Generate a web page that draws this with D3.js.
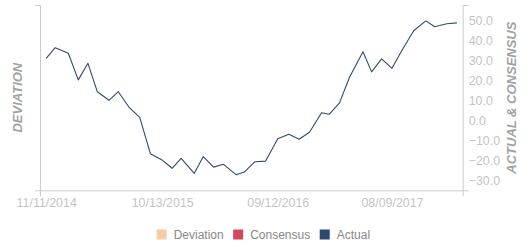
<!DOCTYPE html>
<html>
<head>
<meta charset="utf-8">
<script src="https://cdn.jsdelivr.net/npm/d3@7"></script>
<style>
  body { margin: 0; background: #fff; }
  svg { display: block; font-family: "Liberation Sans", Arial, sans-serif; }
</style>
</head>
<body>
<div class="chart"></div>
<script>
// release dates
var dates = ["11/11/2014","12/07/2014","01/14/2015","02/12/2015","03/12/2015","04/08/2015","05/12/2015","06/08/2015","07/10/2015","08/09/2015",
  "09/09/2015","10/13/2015","11/11/2015","12/07/2015","01/14/2016","02/09/2016","03/10/2016","04/08/2016","05/14/2016","06/07/2016",
  "07/08/2016","08/08/2016","09/12/2016","10/14/2016","11/13/2016","12/13/2016","01/17/2017","02/08/2017","03/10/2017","04/08/2017",
  "05/17/2017","06/11/2017","07/10/2017","08/09/2017","09/08/2017","10/11/2017","11/15/2017","12/11/2017","01/15/2018","02/13/2018"];

// actual values (right axis)
var actual = [31.2,36.5,33.7,20.4,28.7,14.5,10.2,14.5,6.5,1.7,
  -16.5,-19.7,-23.8,-18.8,-26.3,-18.0,-23.2,-21.8,-27.0,-25.7,
  -20.5,-20.2,-9.0,-6.8,-9.3,-5.8,4.0,3.2,8.9,21.7,
  34.5,24.4,30.9,26.2,35.5,45.0,49.9,47.0,48.5,48.9];

var xTicks = ["11/11/2014","10/13/2015","09/12/2016","08/09/2017"];
var yTicks = [-30,-20,-10,0,10,20,30,40,50];

var legendItems = ["Deviation","Consensus","Actual"];
var legendColors = ["#f5cda0","#d6475e","#2c4a6e"];

var parseDate = d3.timeParse("%m/%d/%Y");
var formatDate = d3.timeFormat("%m/%d/%Y");

var width = 531, height = 250;
var plot = { left: 40, right: 462.7, top: 5, bottom: 190.3 };

var data = dates.map(function (d, i) { return { date: parseDate(d), value: actual[i] }; });

var svg = d3.select(".chart").append("svg")
  .attr("width", width)
  .attr("height", height);

// x: time scale, a bit of room either side of the first/last release
var xExtent = d3.extent(data, d => d.date);
var xScale = d3.scaleTime()
  .domain([d3.timeDay.offset(xExtent[0], -18), d3.timeDay.offset(xExtent[1], 17)])
  .range([plot.left, plot.right]);

var yScale = d3.scaleLinear()
  .domain([-34.8, 57.85])
  .range([plot.bottom, plot.top]);

// deviation axis has no data, only the frame
var devScale = d3.scaleLinear().domain([0, 1]).range([plot.bottom, plot.top]);

var axisColor = "#cccccc";
var tickColor = "#c4c4c4";
var titleColor = "#a2a2a2";

// left axis
var gLeft = svg.append("g")
  .attr("transform", `translate(${plot.left},0)`)
  .call(d3.axisLeft(devScale).tickValues([]).tickSizeOuter(5));

// right axis
var gRight = svg.append("g")
  .attr("transform", `translate(${plot.right},0)`)
  .call(d3.axisRight(yScale).tickValues(yTicks).tickSize(0).tickSizeOuter(6).tickPadding(6).tickFormat(d3.format(".1f")));

// bottom axis
var gBottom = svg.append("g")
  .attr("transform", `translate(0,${plot.bottom})`)
  .call(d3.axisBottom(xScale).tickValues(xTicks.map(parseDate)).tickSize(0).tickSizeOuter(6).tickPadding(8).tickFormat(formatDate));

[gLeft, gRight, gBottom].forEach(function (g) {
  g.select(".domain").attr("stroke", axisColor);
  g.selectAll("text")
    .attr("fill", tickColor)
    .style("font-size", "12.4px")
    .style("font-family", "\"Liberation Sans\", Arial, sans-serif");
});

// axis titles
svg.append("text")
  .attr("transform", `translate(21.5,${(plot.top + plot.bottom) / 2}) rotate(-90)`)
  .attr("text-anchor", "middle")
  .attr("fill", titleColor)
  .style("font-size", "13px")
  .style("font-weight", "bold")
  .style("font-style", "italic")
  .text("DEVIATION");

svg.append("text")
  .attr("transform", `translate(515.5,${(plot.top + plot.bottom) / 2}) rotate(-90)`)
  .attr("text-anchor", "middle")
  .attr("fill", titleColor)
  .style("font-size", "13px")
  .style("font-weight", "bold")
  .style("font-style", "italic")
  .text("ACTUAL & CONSENSUS");

// actual line
var line = d3.line()
  .x(d => xScale(d.date))
  .y(d => yScale(d.value));

svg.append("path")
  .datum(data)
  .attr("fill", "none")
  .attr("stroke", "#34496b")
  .attr("stroke-width", 1.1)
  .attr("stroke-linejoin", "round")
  .attr("d", line);

// legend, centred under the chart
var legend = svg.append("g").attr("class", "legend");
var items = legend.selectAll("g")
  .data(legendItems)
  .enter().append("g");

items.append("rect")
  .attr("width", 10)
  .attr("height", 10)
  .attr("y", 229.5)
  .attr("fill", (d, i) => legendColors[i]);

items.append("text")
  .attr("x", 17)
  .attr("y", 238.5)
  .attr("fill", "#888")
  .style("font-size", "12px")
  .text(d => d);

var xpos = 0;
items.each(function () {
  var w = this.getBBox().width;
  d3.select(this).attr("transform", `translate(${xpos},0)`);
  xpos += w + 9.5;
});
var totalW = xpos - 9.5;
legend.attr("transform", `translate(${(plot.left + plot.right) / 2 + 12 - totalW / 2},0)`);
</script>
</body>
</html>
